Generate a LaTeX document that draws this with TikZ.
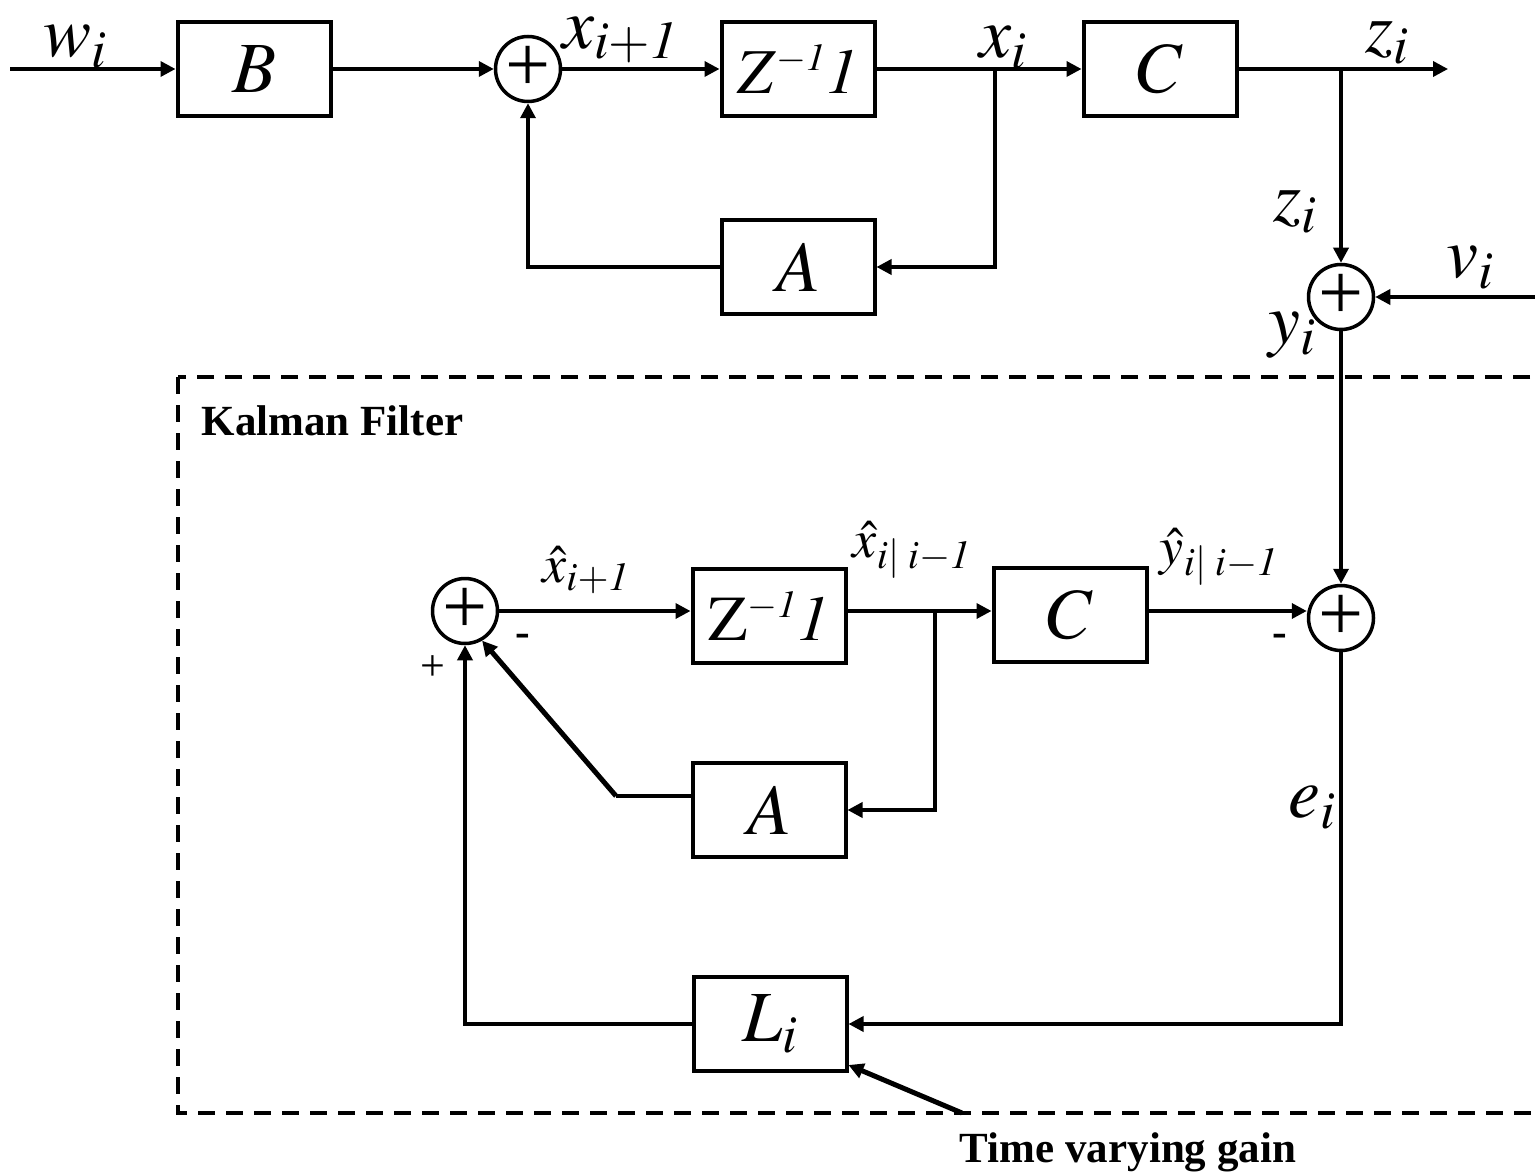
\documentclass[tikz,border=0pt]{standalone}
\usepackage{mathptmx}
\usepackage{fontspec}
\setmainfont{Liberation Serif}
\usetikzlibrary{positioning, arrows.meta, calc}

\begin{document}
\begin{tikzpicture}[x=0.5pt, y=-0.5pt, line width=1.75pt,
    >={Triangle[length=7.5pt, width=7.5pt]},
    blockbox/.style={draw, line width=2pt, minimum width=76.5pt, minimum height=47pt,
        inner sep=0pt, font=\fontsize{36}{40}\selectfont},
    sumnode/.style={draw, circle, minimum size=32.5pt, inner sep=0pt,
        font=\fontsize{40}{40}\selectfont},
    lbl/.style={inner sep=0pt, font=\fontsize{36}{40}\selectfont},
    hatlbl/.style={inner sep=0pt, font=\fontsize{27}{30}\selectfont},
    signlbl/.style={inner sep=0pt, font=\fontsize{22}{24}\selectfont\bfseries},
    notelbl/.style={inner sep=0pt, font=\fontsize{21.5}{24}\selectfont\bfseries}]

    \useasboundingbox (0,0) rectangle (1535,1176);

    % --- 1. STRECKE ---
    \node[blockbox] (B) at (254,69) {$B$};
    \node[sumnode] (s1) at (528,69) {+};
    \node[blockbox, font=\fontsize{32}{36}\selectfont] (Z1) at (798,69)
        {$Z^{\scriptscriptstyle -\mathit{1}}\mathit{1}$};
    \node[blockbox] (C1) at (1160,69) {$C$};
    \node[blockbox] (A1) at (798,267) {$A$};
    \node[sumnode] (s2) at (1341,297) {+};

    \coordinate (w) at (10,69);
    \coordinate (b1) at (995,69);
    \coordinate (b2) at (1341,69);
    \coordinate (zout) at (1448,69);
    \coordinate (v) at (1540,297);

    \draw[->] (w) -- (B);
    \draw[->] (B) -- (s1);
    \draw[->] (s1) -- (Z1);
    \draw[->] (Z1) -- (C1);
    \draw[->] (b1) |- (A1);
    \draw[->] (A1) -| (s1);
    \draw[->] (C1) -- (zout);
    \draw[->] (b2) -- (s2);
    \draw[->] (v) -- (s2);

    \node[lbl] (wl) at (75,47) {$w_i$};
    \node[lbl] (x1l) at (620,40) {$x_{i+\mathit{1}}$};
    \node[lbl] (xl) at (1003,48) {$x_i$};
    \node[lbl] (zl1) at (1387,43) {$z_i$};
    \node[lbl] (zl2) at (1295,212) {$z_i$};
    \node[lbl] (vl) at (1470,268) {$v_i$};
    \node[lbl] (yl) at (1292,335) {$y_i$};

    % --- 2. KALMAN FILTER ---
    \draw[dash pattern=on 8.5pt off 5.5pt, line width=2pt] (178,377) rectangle (1560,1113);
    \node[notelbl, anchor=west] (kf) at (200,421) {Kalman Filter};

    \node[sumnode] (s3) at (465,611) {+};
    \node[blockbox, font=\fontsize{32}{36}\selectfont] (Z2) at (769,616)
        {$\mathrm{Z}^{\scriptscriptstyle -\mathit{1}}\mathit{1}$};
    \node[blockbox] (C2) at (1070,615) {$C$};
    \node[blockbox] (A2) at (769,810) {$A$};
    \node[sumnode] (s4) at (1341,618) {+};
    \node[blockbox] (L) at (770,1024) {$L_i$};

    \coordinate (b3) at (935,611);
    \coordinate (a2k) at (616,796);
    \coordinate (g) at (962,1113);

    \draw[->] (s3) -- (s3 -| Z2.west);
    \draw[->] (Z2.east |- s3) -- (C2.west |- s3);
    \draw[->] (b3) |- (A2.east);
    \draw ($(A2.west)+(0,-14)$) -- (a2k);
    \draw[->, line width=2.5pt] (a2k) -- (s3.-60);
    \draw[->] (C2.east |- s3) -- (s4.west |- s3);
    \draw[->] (s2) -- (s4);
    \draw[->] (s4) |- (L);
    \draw[->] (L) -| (s3);
    \draw[->, line width=2.5pt] (g) -- ($(L.south east)+(0,-8)$);

    \node[hatlbl] (xh1) at (586,570) {$\hat{x}_{i+\mathit{1}}$};
    \node[hatlbl] (xh2) at (912,550) {$\hat{x}_{i|\;i-\mathit{1}}$};
    \node[hatlbl] (yh) at (1219,557) {$\hat{y}_{i|\;i-\mathit{1}}$};
    \node[signlbl] (m1) at (523,640) {-};
    \node[signlbl] (p1) at (433,668) {\mdseries +};
    \node[signlbl] (m2) at (1280,640) {-};
    \node[lbl] (el) at (1312,808) {$e_i$};
    \node[notelbl] (tvg) at (1128,1152) {Time varying gain};

\end{tikzpicture}
\end{document}
